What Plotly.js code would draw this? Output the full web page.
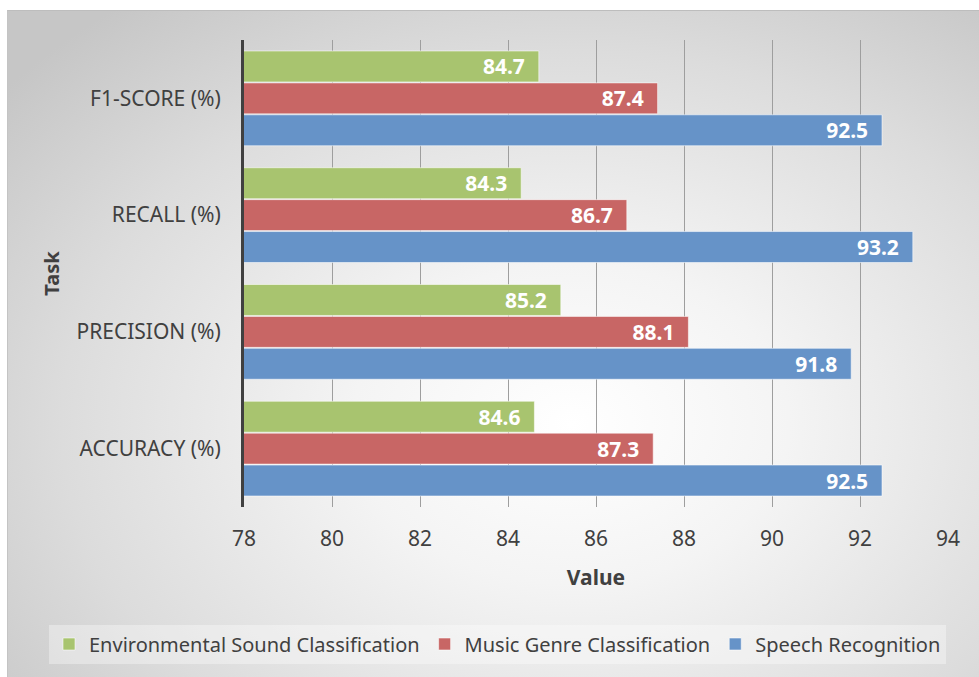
<!DOCTYPE html>
<html>
<head>
<meta charset="utf-8">
<script src="https://cdn.plot.ly/plotly-3.0.1.min.js"></script>
<style>
  html, body { margin: 0; padding: 0; background: #ffffff; }
  #bg { position: absolute; left: 7px; top: 10px; width: 972px; height: 667px;
        background: radial-gradient(ellipse 75% 80% at 58% 62%, #ffffff 0%, #f4f4f4 30%, #dcdcdc 70%, #c6c6c6 100%);
        border-top: 1px solid #bdbdbd; border-left: 1px solid #c4c4c4; box-sizing: border-box; }
  #chart { position: absolute; left: 0; top: 0; width: 979px; height: 677px; }
</style>
</head>
<body>
<div id="bg"></div>
<div id="chart"></div>
<script>
const categories = ["ACCURACY (%)", "PRECISION (%)", "RECALL (%)", "F1-SCORE (%)"];
const speechRecognition = [92.5, 91.8, 93.2, 92.5];
const musicGenre = [87.3, 88.1, 86.7, 87.4];
const environmentalSound = [84.6, 85.2, 84.3, 84.7];
const xTicks = [78, 80, 82, 84, 86, 88, 90, 92, 94];

const FONT = "Noto Sans, Open Sans, sans-serif";

function barTrace(name, values, color) {
  return {
    type: "bar",
    orientation: "h",
    name: name,
    y: categories,
    x: values,
    base: 0,
    marker: { color: color, line: { color: "rgba(255,255,255,0.55)", width: 1 } },
    text: values.map(v => v.toFixed(1) + "\u00a0\u00a0"),
    textposition: "inside",
    insidetextanchor: "end",
    textfont: { family: FONT, size: 21, color: "#ffffff", weight: "bold" },
    constraintext: "none",
    cliponaxis: false,
    hoverinfo: "x+name"
  };
}

const data = [
  barTrace("Speech Recognition", speechRecognition, "#6693c8"),
  barTrace("Music Genre Classification", musicGenre, "#c86665"),
  barTrace("Environmental Sound Classification", environmentalSound, "#a8c46f")
];

const layout = {
  width: 979,
  height: 677,
  paper_bgcolor: "rgba(0,0,0,0)",
  plot_bgcolor: "rgba(0,0,0,0)",
  margin: { l: 244, r: 31, t: 40, b: 170, autoexpand: false },
  barmode: "group",
  bargap: 0.18,
  bargroupgap: 0.03,
  font: { family: FONT, color: "#404040" },
  xaxis: {
    range: [78, 94],
    tickvals: xTicks,
    ticktext: xTicks.map(String),
    showgrid: true,
    gridcolor: "#9e9e9e",
    gridwidth: 1,
    zeroline: false,
    showline: false,
    ticks: "",
    ticklabelstandoff: 17,
    tickfont: { family: FONT, size: 21, color: "#404040" },
    title: { text: "Value", font: { family: FONT, size: 21, color: "#404040", weight: "bold" }, standoff: 19 },
    fixedrange: true
  },
  yaxis: {
    type: "category",
    categoryorder: "array",
    categoryarray: categories,
    showgrid: false,
    zeroline: false,
    showline: true,
    linecolor: "#404040",
    linewidth: 3,
    ticks: "",
    ticklabelstandoff: 16,
    tickfont: { family: FONT, size: 21, color: "#404040" },
    title: { text: "Task", font: { family: FONT, size: 20, color: "#404040", weight: "bold" }, standoff: 12 },
    fixedrange: true
  },
  legend: {
    orientation: "h",
    traceorder: "reversed",
    x: (49 - 244) / 704,
    xanchor: "left",
    xref: "paper",
    y: (507 - 644) / 467,
    yanchor: "middle",
    yref: "paper",
    bgcolor: "rgba(255,255,255,0.35)",
    borderwidth: 0,
    font: { family: FONT, size: 20, color: "#404040" },
    itemwidth: 30,
    itemclick: false
  },
  showlegend: true
};

Plotly.newPlot("chart", data, layout, { displayModeBar: false });
</script>
</body>
</html>
